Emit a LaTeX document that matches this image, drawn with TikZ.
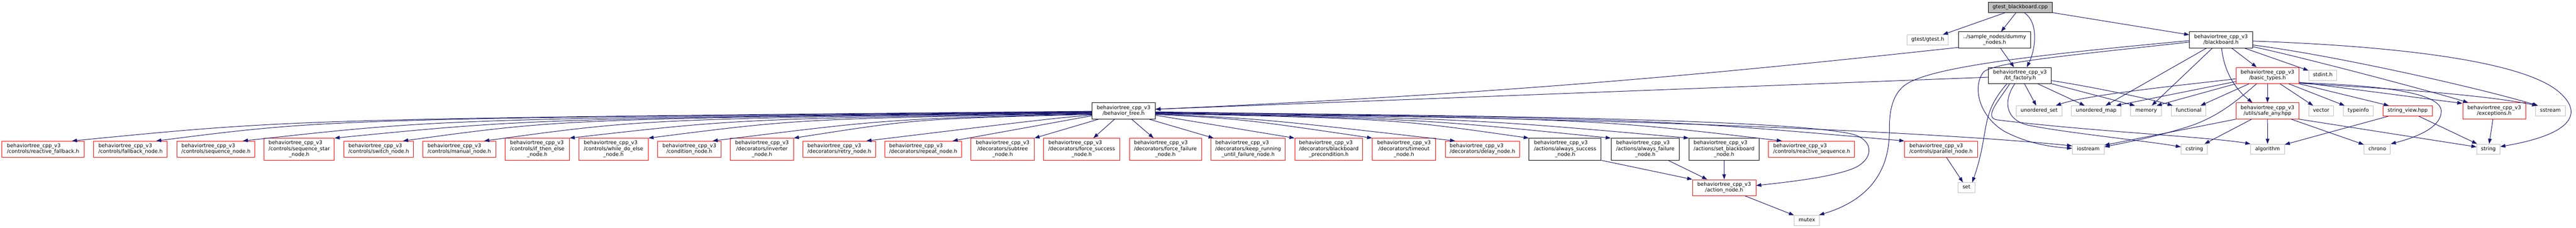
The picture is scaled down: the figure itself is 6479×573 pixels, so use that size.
\documentclass[tikz,border=0pt]{standalone}
\usepackage{fontspec}
\setmainfont{DejaVu Sans}
\usetikzlibrary{arrows.meta,calc}
\definecolor{edgecol}{HTML}{191970}
\definecolor{grey75}{HTML}{BFBFBF}
\newcommand\lbl[1]{\begin{tabular}{@{}l@{}}#1\end{tabular}}
\newcommand\cl[1]{\multicolumn{1}{@{}c@{}}{#1}}
\newcommand\btc{behaviortree\_cpp\_v3}
\begin{document}
\begin{tikzpicture}[x=0.774pt,y=-0.774pt,
  nd/.style={rectangle, inner sep=0pt, line width=1pt, fill=white, font=\fontsize{10pt}{11.3pt}\selectfont, text=black},
  docn/.style={nd, draw=black},
  trunc/.style={nd, draw=red},
  extn/.style={nd, draw=grey75},
  rootn/.style={nd, draw=black, fill=grey75},
  h1/.style={minimum height=19.81pt},
  h2/.style={minimum height=31.27pt},
  h3/.style={minimum height=42.42pt},
  bw/.style={minimum width={#1*0.774pt}},
  lnk/.style={draw=edgecol, line width=1pt, -{Triangle[length=10pt,width=7pt]}}
]
\fill[white] (0,0) rectangle (6479,573);
\useasboundingbox (0,0) rectangle (6479,573);

% ---------- rank 0 / 1 / 2
\node[rootn,h1,bw=160.5] (root) at (5081,18.6) {\lbl{gtest\_blackboard.cpp}};
\node[extn,h1,bw=104.4] (gtesth) at (4848.4,100.5) {\lbl{gtest/gtest.h}};
\node[docn,h2,bw=182.5] (dummy) at (5016.6,100.5) {\lbl{../sample\_nodes/dummy\\\cl{\_nodes.h}}};
\node[docn,h2,bw=158.4] (bb) at (5586,100.5) {\lbl{\btc\\\cl{/blackboard.h}}};
\node[docn,h2,bw=158.4] (btf) at (5080.4,190.1) {\lbl{\btc\\\cl{/bt\_factory.h}}};
\node[trunc,h2,bw=158.4] (basic) at (5703,190.1) {\lbl{\btc\\\cl{/basic\_types.h}}};
\node[extn,h1,bw=70.6] (stdint) at (5842,190.1) {\lbl{stdint.h}};

% ---------- rank 3
\node[docn,h2,bw=158.7] (btree) at (2825.9,279.3) {\lbl{\btc\\\cl{/behavior\_tree.h}}};
\node[extn,h1,bw=114.4] (uset) at (5128.6,279.3) {\lbl{unordered\_set}};
\node[extn,h1,bw=124] (umap) at (5272.2,279.3) {\lbl{unordered\_map}};
\node[extn,h1,bw=77.2] (memory) at (5397.9,279.3) {\lbl{memory}};
\node[extn,h1,bw=86.8] (functional) at (5504.7,279.3) {\lbl{functional}};
\node[trunc,h2,bw=158.4] (safeany) at (5703,279.3) {\lbl{\btc\\\cl{/utils/safe\_any.hpp}}};
\node[extn,h1,bw=62.7] (vector) at (5838,279.3) {\lbl{vector}};
\node[extn,h1,bw=75.8] (typeinfo) at (5931.4,279.3) {\lbl{typeinfo}};
\node[trunc,h1,bw=124.3] (strview) at (6055.6,279.3) {\lbl{string\_view.hpp}};
\node[trunc,h2,bw=158.7] (exc) at (6273.2,279.3) {\lbl{\btc\\\cl{/exceptions.h}}};
\node[extn,h1,bw=75] (sstream) at (6414.5,279.3) {\lbl{sstream}};

% ---------- rank 4
\node[trunc,h2,bw=207] (rfb) at (108.3,375.7) {\lbl{\btc\\\cl{/controls/reactive\_fallback.h}}};
\node[trunc,h2,bw=185.6] (fbn) at (328.3,375.7) {\lbl{\btc\\\cl{/controls/fallback\_node.h}}};
\node[trunc,h2,bw=195] (seqn) at (543.1,375.7) {\lbl{\btc\\\cl{/controls/sequence\_node.h}}};
\node[trunc,h3,bw=176] (seqstar) at (752.7,375.7) {\lbl{\btc\\\cl{/controls/sequence\_star}\\\cl{\_node.h}}};
\node[trunc,h2,bw=175] (switchn) at (952.6,375.7) {\lbl{\btc\\\cl{/controls/switch\_node.h}}};
\node[trunc,h2,bw=183.3] (manual) at (1155,375.7) {\lbl{\btc\\\cl{/controls/manual\_node.h}}};
\node[trunc,h3,bw=161.5] (ifte) at (1351.2,375.7) {\lbl{\btc\\\cl{/controls/if\_then\_else}\\\cl{\_node.h}}};
\node[trunc,h3,bw=174.6] (wde) at (1543,375.7) {\lbl{\btc\\\cl{/controls/while\_do\_else}\\\cl{\_node.h}}};
\node[trunc,h2,bw=158.8] (cond) at (1733.8,375.7) {\lbl{\btc\\\cl{/condition\_node.h}}};
\node[trunc,h3,bw=158.7] (inv) at (1916.4,375.7) {\lbl{\btc\\\cl{/decorators/inverter}\\\cl{\_node.h}}};
\node[trunc,h2,bw=182] (retry) at (2111,375.7) {\lbl{\btc\\\cl{/decorators/retry\_node.h}}};
\node[trunc,h2,bw=192.1] (repeat) at (2321.9,375.7) {\lbl{\btc\\\cl{/decorators/repeat\_node.h}}};
\node[trunc,h3,bw=158.7] (subtree) at (2521.8,375.7) {\lbl{\btc\\\cl{/decorators/subtree}\\\cl{\_node.h}}};
\node[trunc,h3,bw=191] (fsucc) at (2720.5,375.7) {\lbl{\btc\\\cl{/decorators/force\_success}\\\cl{\_node.h}}};
\node[trunc,h3,bw=181.5] (ffail) at (2931.2,375.7) {\lbl{\btc\\\cl{/decorators/force\_failure}\\\cl{\_node.h}}};
\node[trunc,h3,bw=187] (keep) at (3139.2,375.7) {\lbl{\btc\\\cl{/decorators/keep\_running}\\\cl{\_until\_failure\_node.h}}};
\node[trunc,h3,bw=170.8] (bbpre) at (3341.9,375.7) {\lbl{\btc\\\cl{/decorators/blackboard}\\\cl{\_precondition.h}}};
\node[trunc,h3,bw=158.7] (timeout) at (3531.2,375.7) {\lbl{\btc\\\cl{/decorators/timeout}\\\cl{\_node.h}}};
\node[trunc,h2,bw=187] (delay) at (3728.5,375.7) {\lbl{\btc\\\cl{/decorators/delay\_node.h}}};
\node[docn,h3,bw=181.5] (asucc) at (3936.5,375.7) {\lbl{\btc\\\cl{/actions/always\_success}\\\cl{\_node.h}}};
\node[docn,h3,bw=172.2] (afail) at (4138.1,375.7) {\lbl{\btc\\\cl{/actions/always\_failure}\\\cl{\_node.h}}};
\node[docn,h3,bw=176] (setbb) at (4336.3,375.7) {\lbl{\btc\\\cl{/actions/set\_blackboard}\\\cl{\_node.h}}};
\node[trunc,h2,bw=216.3] (rseq) at (4556.5,375.7) {\lbl{\btc\\\cl{/controls/reactive\_sequence.h}}};
\node[trunc,h2,bw=182.9] (par) at (4881.9,375.7) {\lbl{\btc\\\cl{/controls/parallel\_node.h}}};
\node[extn,h1,bw=79.9] (iostream) at (5252.3,375.7) {\lbl{iostream}};
\node[extn,h1,bw=66.5] (cstring) at (5519,375.7) {\lbl{cstring}};
\node[extn,h1,bw=85] (algorithm) at (5703.2,375.7) {\lbl{algorithm}};
\node[extn,h1,bw=66.4] (chrono) at (5979.1,375.7) {\lbl{chrono}};
\node[extn,h1,bw=58.5] (string) at (6258.5,375.7) {\lbl{string}};

% ---------- rank 5 / 6
\node[trunc,h2,bw=159.2] (action) at (4336.5,472.5) {\lbl{\btc\\\cl{/action\_node.h}}};
\node[extn,h1,bw=43] (set) at (4945.9,472.5) {\lbl{set}};
\node[extn,h1,bw=63.7] (mutex) at (4544.7,554.8) {\lbl{mutex}};

% ---------- edges from root
\draw[lnk] (root) -- (gtesth);
\draw[lnk] (root) -- (dummy);
\draw[lnk] ($(root.south)+(10.4,0)$) .. controls +(37,25) and +(22,-45) .. ($(btf.north)+(17.2,0)$);
\draw[lnk] (root) -- (bb);

% ---------- dummy nodes
\draw[lnk] (dummy) -- (btf);
\draw[lnk] ($(dummy.west)+(0,19)$) .. controls +(-600,65) and +(900,-40) .. ($(btree.east)+(0,-4.3)$);

% ---------- bt_factory
\draw[lnk] ($(btf.west)+(0,4.3)$) -- ($(btree.east)+(0,-4.3)$);
\draw[lnk] (btf) -- (uset);
\draw[lnk] (btf) -- (umap);
\draw[lnk] (btf.south east) -- ($(memory.north)+(-28.3,0)$);
\draw[lnk] ($(btf.east)+(0,12.9)$) .. controls +(100,15) and +(-50,-15) .. ($(functional.north west)+(4,0)$);
\draw[lnk] ($(btf.south)+(-32.7,0)$) .. controls +(-70,80) and +(45,-130) .. ($(set.north east)+(-7.5,0)$);
\draw[lnk] ($(btf.south)+(-25.8,0)$) .. controls (5030,250) and (4985,298) .. (5025,302) .. controls (5250,330) and (5560,345) .. (algorithm.north west);
\draw[lnk] ($(btf.south)+(-12.8,0)$) .. controls (5040,250) and (5040,300) .. (5100,315) .. controls (5200,335) and (5400,355) .. ($(cstring.west)+(0,-5.8)$);

% ---------- blackboard
\draw[lnk] (bb) -- (basic);
\draw[lnk] (bb) -- (stdint);
\draw[lnk] (bb) -- (memory);
\draw[lnk] (bb) -- (umap);
\draw[lnk] ($(bb.south)+(1.7,0)$) .. controls +(5,50) and +(-50,-40) .. ($(safeany.north)+(-38,0)$);
\draw[lnk] ($(bb.east)+(0,17.2)$) .. controls +(100,20) and +(-90,-28) .. ($(exc.north west)+(14.8,0)$);
\draw[lnk] ($(bb.east)+(0,12.8)$) .. controls +(200,25) and +(-150,-45) .. ($(sstream.north west)+(7,0)$);
\draw[lnk] ($(bb.east)+(0,2.9)$) .. controls (6000,115) and (6350,150) .. (6440,235) .. controls (6500,290) and (6460,340) .. ($(string.east)+(0,-6.5)$);
\draw[lnk] ($(bb.west)+(0,5.5)$) .. controls (5200,140) and (5030,155) .. (4990,180) .. controls (4960,215) and (4975,290) .. (5040,330) .. controls (5100,362) and (5160,370) .. ($(iostream.west)+(0,-2.2)$);
\draw[lnk] ($(bb.west)+(0,1.8)$) .. controls (5100,140) and (4850,170) .. (4790,215) .. controls (4752,245) and (4752,300) .. (4752,330) .. controls (4752,450) and (4680,510) .. ($(mutex.north east)+(-2,0)$);

% ---------- basic_types
\draw[lnk] (basic) -- (safeany);
\draw[lnk] (basic) -- (vector);
\draw[lnk] (basic) -- (typeinfo);
\draw[lnk] (basic) -- (functional);
\draw[lnk] (basic.south west) -- ($(memory.north)+(26.2,0)$);
\draw[lnk] ($(basic.west)+(0,15.3)$) -- ($(umap.north east)+(-12.8,0)$);
\draw[lnk] ($(basic.west)+(0,8.4)$) .. controls +(-100,12) and +(80,-28) .. ($(uset.north east)+(-15.8,0)$);
\draw[lnk] ($(basic.south)+(-27.5,0)$) .. controls (5630,250) and (5580,295) .. (5500,320) .. controls (5420,345) and (5350,358) .. ($(iostream.east)+(0,-5.8)$);
\draw[lnk] (basic.south east) -- ($(strview.north west)+(15.5,0)$);
\draw[lnk] ($(basic.east)+(0,17)$) -- ($(exc.west)+(0,-19)$);
\draw[lnk] ($(basic.east)+(0,19.5)$) .. controls +(200,12) and +(-150,-30) .. ($(sstream.north west)+(5,0)$);
\draw[lnk] ($(basic.east)+(0,18.2)$) .. controls (6000,215) and (6140,235) .. (6140,280) .. controls (6140,320) and (6080,345) .. (chrono.north east);

% ---------- safe_any / string_view / exceptions
\draw[lnk] (safeany) -- (algorithm);
\draw[lnk] (safeany) -- (cstring);
\draw[lnk] (safeany) -- (chrono);
\draw[lnk] (safeany.south west) -- ($(iostream.east)+(0,-10.2)$);
\draw[lnk] (safeany.south east) -- ($(string.west)+(0,-5.8)$);
\draw[lnk] (strview) -- (algorithm);
\draw[lnk] (strview) -- (string);
\draw[lnk] (exc) -- (string);

% ---------- lower ranks
\draw[lnk] (asucc.south east) -- (action.north west);
\draw[lnk] (afail) -- (action);
\draw[lnk] (setbb) -- (action);
\draw[lnk] (action) -- (mutex);
\draw[lnk] (par) -- (set);

% ---------- behavior_tree.h fan-out
\draw[lnk] ($(btree.west)+(0,0.7)$) .. controls (746,299.5) and (746,299.5) .. ($(rfb.north)+(72.5,0)$);
\draw[lnk] ($(btree.west)+(0,1.5)$) .. controls (827,299.5) and (827,299.5) .. ($(fbn.north)+(64.3,0)$);
\draw[lnk] ($(btree.west)+(0,2.3)$) .. controls (1110,299.5) and (1110,299.5) .. ($(seqn.north)+(67.5,0)$);
\draw[lnk] ($(btree.west)+(0,3.1)$) .. controls (1333,299.5) and (1333,299.5) .. (seqstar.north east);
\draw[lnk] ($(btree.west)+(0,3.9)$) .. controls (1417,299.5) and (1417,299.5) .. ($(switchn.north)+(60.9,0)$);
\draw[lnk] ($(btree.west)+(0,4.7)$) .. controls (1621,299.5) and (1621,299.5) .. ($(manual.north)+(62.7,0)$);
\draw[lnk] ($(btree.west)+(0,5.7)$) .. controls (1858,299.5) and (1858,299.5) .. (ifte.north east);
\draw[lnk] ($(btree.west)+(0,6.7)$) .. controls (2010,299.5) and (2010,299.5) .. (wde.north east);
\draw[lnk] ($(btree.west)+(0,7.7)$) .. controls (2236,299.5) and (2236,299.5) .. ($(cond.north)+(58.4,0)$);
\draw[lnk] ($(btree.west)+(0,8.7)$) .. controls (2305,299.5) and (2305,299.5) .. (inv.north east);
\draw[lnk] ($(btree.west)+(0,10.2)$) .. controls (2635,299.5) and (2635,299.5) .. ($(retry.north)+(67.9,0)$);
\draw[lnk] ($(btree.west)+(0,12.2)$) -- ($(repeat.north)+(74,0)$);
\draw[lnk] ($(btree.south west)+(17.2,0)$) -- (subtree.north east);
\draw[lnk] ($(btree.south)+(-22.6,0)$) -- ($(fsucc.north)+(29.5,0)$);
\draw[lnk] ($(btree.south)+(20.4,0)$) -- ($(ffail.north)+(-29.8,0)$);
\draw[lnk] ($(btree.south east)+(-15.8,0)$) -- ($(keep.north west)+(7.3,0)$);
\draw[lnk] ($(btree.east)+(0,10.7)$) -- (bbpre.north west);
\draw[lnk] ($(btree.east)+(0,8.7)$) .. controls (3123,299.5) and (3123,299.5) .. (timeout.north west);
\draw[lnk] ($(btree.east)+(0,7.2)$) .. controls (3177,299.5) and (3177,299.5) .. ($(delay.north)+(-68.5,0)$);
\draw[lnk] ($(btree.east)+(0,6.2)$) .. controls (3508,299.5) and (3508,299.5) .. (asucc.north west);
\draw[lnk] ($(btree.east)+(0,5.2)$) .. controls (3573,299.5) and (3573,299.5) .. (afail.north west);
\draw[lnk] ($(btree.east)+(0,4.2)$) .. controls (3706,299.5) and (3706,299.5) .. (setbb.north west);
\draw[lnk] ($(btree.east)+(0,3.2)$) .. controls (4011,299.5) and (4011,299.5) .. ($(rseq.north)+(-74.7,0)$);
\draw[lnk] ($(btree.east)+(0,2.2)$) .. controls (4163,299.5) and (4163,299.5) .. (par.north west);
\draw[lnk] ($(btree.east)+(0,8)$) .. controls (3900,290) and (4850,330) .. ($(iostream.west)+(0,-8.4)$);
\draw[lnk] ($(btree.east)+(0,3.7)$) .. controls (3700,290) and (4500,300) .. (4660,338) .. controls (4710,352) and (4715,395) .. (4670,420) .. controls (4620,445) and (4500,458) .. ($(action.east)+(0,-5.4)$);
\end{tikzpicture}
\end{document}
